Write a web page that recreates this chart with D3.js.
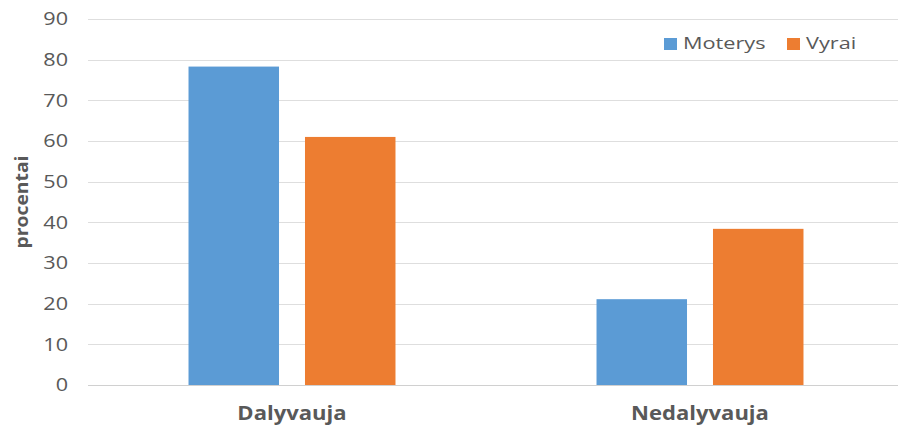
<!DOCTYPE html>
<html>
<head>
<meta charset="utf-8">
<script src="https://cdn.jsdelivr.net/npm/d3@7"></script>
<style>
  html, body { margin: 0; padding: 0; background: #fff; }
  svg { display: block; }
  text { font-family: "Open Sans", sans-serif; }
</style>
</head>
<body>
<svg id="chart" width="898" height="425"></svg>
<script>
// Participation by gender, percent
const categories = ["Dalyvauja", "Nedalyvauja"];
const seriesNames = ["Moterys", "Vyrai"];
const moterys = [78.3, 21.1];
const vyrai = [61.0, 38.4];
const yTicks = [0, 10, 20, 30, 40, 50, 60, 70, 80, 90];
const colors = ["#5b9bd5", "#ed7d31"];

const rows = categories.map((c, i) => ({ category: c, values: [moterys[i], vyrai[i]] }));

const svg = d3.select("#chart");
const plot = { left: 88, right: 904, top: 19, bottom: 385 };
const textColor = "#595959";

// widen text glyphs horizontally by a factor
function stretch(sel, factor) {
  sel.each(function () {
    const w = this.getComputedTextLength();
    d3.select(this).attr("textLength", w * factor).attr("lengthAdjust", "spacingAndGlyphs");
  });
}

const y = d3.scaleLinear().domain([0, 90]).range([plot.bottom, plot.top]);
const x0 = d3.scaleBand().domain(categories).range([plot.left, plot.right]).padding(0);
const x1 = d3.scaleBand().domain(seriesNames).range([0, x0.bandwidth()])
  .paddingInner(0.223).paddingOuter(0.863);

// horizontal gridlines
svg.append("g").selectAll("line").data(yTicks).join("line")
  .attr("x1", plot.left).attr("x2", 898)
  .attr("y1", d => Math.round(y(d)) + 0.5).attr("y2", d => Math.round(y(d)) + 0.5)
  .attr("stroke", d => d === 0 ? "#d0d0d0" : "#dedede")
  .attr("stroke-width", 1);

// y tick labels
const tickLabels = svg.append("g").selectAll("text").data(yTicks).join("text")
  .attr("x", 68).attr("y", d => y(d))
  .attr("dy", "0.36em")
  .attr("text-anchor", "end")
  .attr("fill", textColor)
  .attr("font-size", 18)
  .text(d => d);
stretch(tickLabels, 1.2);

// bars
const groups = svg.append("g").selectAll("g").data(rows).join("g")
  .attr("transform", d => `translate(${x0(d.category)},0)`);
groups.selectAll("rect")
  .data(d => d.values.map((v, i) => ({ name: seriesNames[i], value: v, i })))
  .join("rect")
  .attr("x", d => x1(d.name))
  .attr("width", x1.bandwidth())
  .attr("y", d => y(d.value))
  .attr("height", d => y(0) - y(d.value))
  .attr("fill", d => colors[d.i]);

// category labels
const catLabels = svg.append("g").selectAll("text").data(categories).join("text")
  .attr("x", d => x0(d) + x0.bandwidth() / 2)
  .attr("y", 420)
  .attr("text-anchor", "middle")
  .attr("fill", textColor)
  .attr("font-size", 19.5)
  .attr("font-weight", "bold")
  .text(d => d);
stretch(catLabels, 1.13);

// y axis title
svg.append("text")
  .attr("transform", `translate(28, ${(plot.top + plot.bottom) / 2}) rotate(-90)`)
  .attr("text-anchor", "middle")
  .attr("fill", textColor)
  .attr("font-size", 17)
  .attr("font-weight", "bold")
  .attr("textLength", 93)
  .attr("lengthAdjust", "spacingAndGlyphs")
  .text("procentai");

// legend
const legend = svg.append("g").attr("transform", "translate(664, 38)");
const legendX = [0, 123];
seriesNames.forEach((name, i) => {
  const g = legend.append("g").attr("transform", `translate(${legendX[i]},0)`);
  g.append("rect").attr("width", 13).attr("height", 12).attr("fill", colors[i]);
  const t = g.append("text").attr("x", 19).attr("y", 11.3)
    .attr("fill", textColor).attr("font-size", 15.5)
    .text(name);
  stretch(t, 1.4);
});
</script>
</body>
</html>
